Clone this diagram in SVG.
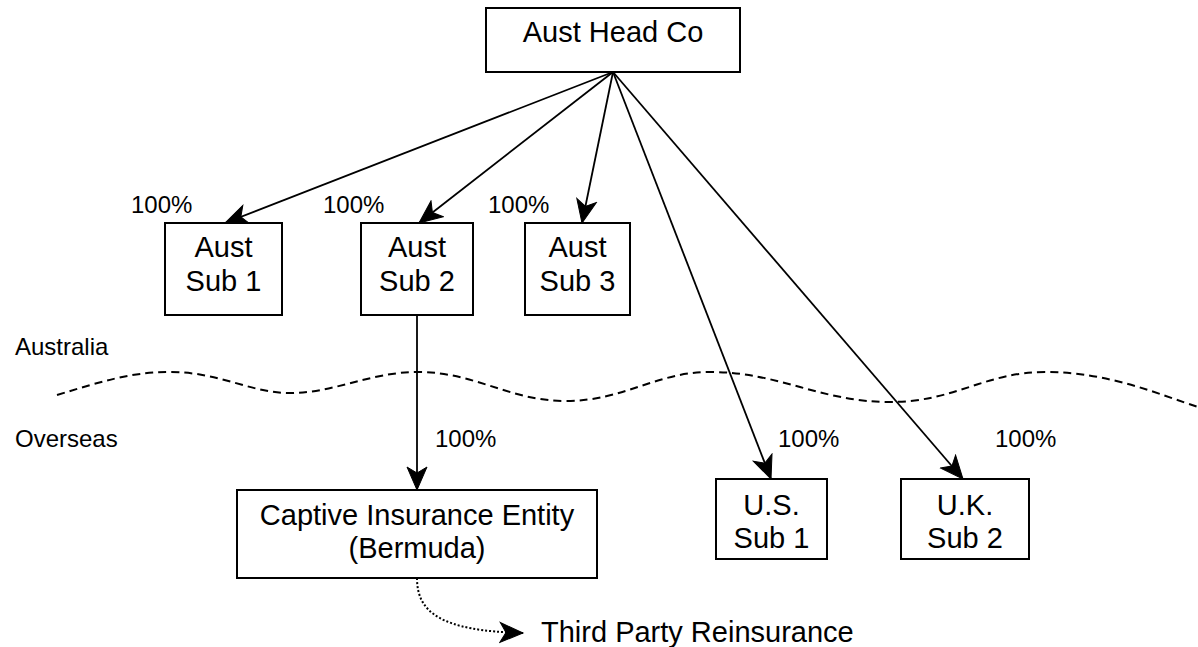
<svg xmlns="http://www.w3.org/2000/svg" width="1198" height="647" viewBox="0 0 1198 647">
  <defs>
    <style>
      .box { fill: #ffffff; stroke: #000000; stroke-width: 2; }
      .nt { font-family: "Liberation Sans", Arial, sans-serif; font-size: 29px; fill: #000000; text-anchor: middle; }
      .lbl { font-family: "Liberation Sans", Arial, sans-serif; font-size: 24px; fill: #000000; }
      .conn { fill: none; stroke: #000000; stroke-width: 1.8; marker-end: url(#arrow); }
      .dot { fill: none; stroke: #000000; stroke-width: 2; stroke-dasharray: 2 2; marker-end: url(#arrow); }
      .wave { fill: none; stroke: #000000; stroke-width: 2; stroke-dasharray: 8 5; }
    </style>
    <marker id="arrow" markerUnits="userSpaceOnUse" markerWidth="26" markerHeight="24" viewBox="0 0 26 24" refX="24" refY="12" orient="auto">
      <path d="M1,2 L24,12 L1,22 L7,12 Z" fill="#000000" stroke="#000000" stroke-width="1"/>
    </marker>
  </defs>

  <g id="connectors">
    <line class="conn" x1="613" y1="72" x2="225" y2="223"/>
    <line class="conn" x1="613" y1="72" x2="419" y2="223"/>
    <line class="conn" x1="613" y1="72" x2="582" y2="223"/>
    <line class="conn" x1="613" y1="72" x2="771" y2="479"/>
    <line class="conn" x1="613" y1="72" x2="963" y2="479"/>
    <line class="conn" x1="417" y1="315" x2="417" y2="490"/>
    <path class="dot" d="M417,578 C417,612 440,631 523,633"/>
  </g>

  <g id="border">
    <path class="wave" d="M57,395 C100,382 130,372 170,372 C220,372 250,393 290,393 C335,393 370,372 418,372 C475,372 510,401 565,401 C625,401 655,372 710,372 C780,372 820,402 890,402 C955,402 985,372 1045,372 C1110,372 1160,395 1198,407"/>
  </g>

  <g id="head">
    <rect class="box" x="486" y="8" width="254" height="64"/>
    <text class="nt" x="613" y="42">Aust Head Co</text>
  </g>
  <g id="sub1">
    <rect class="box" x="165" y="223" width="117" height="92"/>
    <text class="nt" x="223.5" y="257">Aust</text>
    <text class="nt" x="223.5" y="291">Sub 1</text>
  </g>
  <g id="sub2">
    <rect class="box" x="361" y="223" width="112" height="92"/>
    <text class="nt" x="417" y="257">Aust</text>
    <text class="nt" x="417" y="291">Sub 2</text>
  </g>
  <g id="sub3">
    <rect class="box" x="525" y="223" width="105" height="92"/>
    <text class="nt" x="577.5" y="257">Aust</text>
    <text class="nt" x="577.5" y="291">Sub 3</text>
  </g>
  <g id="us">
    <rect class="box" x="716" y="479" width="111" height="80"/>
    <text class="nt" x="771.5" y="515">U.S.</text>
    <text class="nt" x="771.5" y="548">Sub 1</text>
  </g>
  <g id="uk">
    <rect class="box" x="901" y="479" width="128" height="80"/>
    <text class="nt" x="965" y="515">U.K.</text>
    <text class="nt" x="965" y="548">Sub 2</text>
  </g>
  <g id="captive">
    <rect class="box" x="237" y="490" width="360" height="88"/>
    <text class="nt" x="417" y="525">Captive Insurance Entity</text>
    <text class="nt" x="417" y="558">(Bermuda)</text>
  </g>
  <g id="labels">
    <text class="lbl" x="131" y="213">100%</text>
    <text class="lbl" x="323" y="213">100%</text>
    <text class="lbl" x="488" y="213">100%</text>
    <text class="lbl" x="435" y="447">100%</text>
    <text class="lbl" x="778" y="447">100%</text>
    <text class="lbl" x="995" y="447">100%</text>
    <text class="lbl" x="15" y="355">Australia</text>
    <text class="lbl" x="15" y="447">Overseas</text>
  </g>
  <g id="third-party">
    <text class="nt" x="541" y="642" style="text-anchor:start">Third Party Reinsurance</text>
  </g>
</svg>
